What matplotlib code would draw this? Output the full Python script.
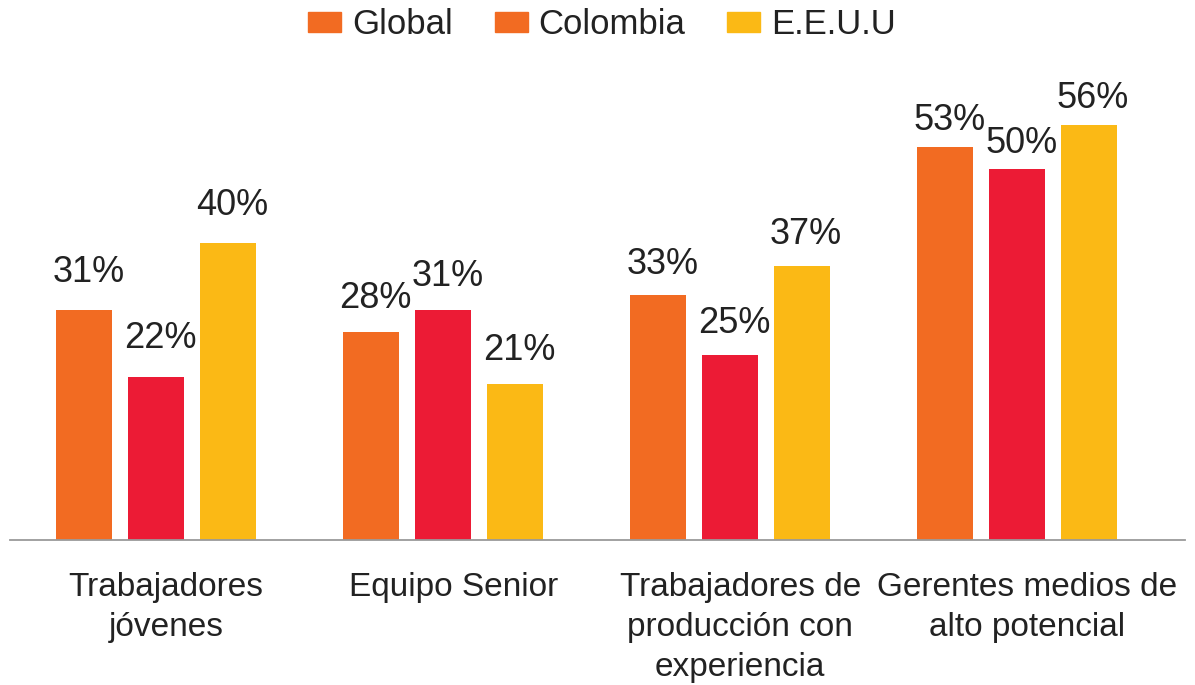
import numpy as np
import matplotlib.pyplot as plt
from matplotlib.patches import Patch

plt.rcParams['font.family'] = ['Liberation Sans', 'DejaVu Sans']

categorias = ['Trabajadores\njóvenes', 'Equipo Senior',
              'Trabajadores de\nproducción con\nexperiencia',
              'Gerentes medios de\nalto potencial']
series = ['Global', 'Colombia', 'E.E.U.U']
global_vals = [31, 28, 33, 53]
colombia_vals = [22, 31, 25, 50]
eeuu_vals = [40, 21, 37, 56]

naranja = '#F26B22'
rojo = '#EC1B35'
amarillo = '#FBB915'
texto = '#222222'

fig = plt.figure(figsize=(11.95, 6.85), dpi=100)
ax = fig.add_axes([10 / 1195, 145 / 685, 1175 / 1195, 445 / 685])

x = np.arange(len(categorias))
paso = 0.25
ancho = 0.195
# separacion (px) entre etiqueta y barra en cada grupo, como en el original
sep = [24, 20, 17, 12]
for vals, col, off in [(global_vals, naranja, -paso),
                       (colombia_vals, rojo, 0),
                       (eeuu_vals, amarillo, paso)]:
    ax.bar(x + off, vals, ancho, color=col)
    for i, v in enumerate(vals):
        ax.annotate(f'{v}%', (x[i] + off, v), xytext=(3, sep[i] * 0.72 - 2.5),
                    textcoords='offset points', ha='center', va='bottom',
                    fontsize=26, color=texto)

ax.set_xlim(-0.509, 3.585)
ax.set_ylim(0, 60)
ax.set_xticks(x + 0.035)
ax.set_xticklabels(categorias, fontsize=24, color=texto, linespacing=1.37,
                   va='top')
ax.tick_params(axis='x', length=0, pad=23)
ax.set_yticks([])
for lado in ['top', 'right', 'left']:
    ax.spines[lado].set_visible(False)
ax.spines['bottom'].set_color('#9a9a9a')
ax.spines['bottom'].set_linewidth(1.3)

# en el original la leyenda de Colombia sale naranja
handles = [Patch(color=naranja), Patch(color=naranja), Patch(color=amarillo)]
fig.legend(handles, series, loc='center', bbox_to_anchor=(602 / 1195, 1 - 25 / 685),
           ncol=3, frameon=False, fontsize=25, handlelength=0.96,
           handleheight=0.5, handletextpad=0.31, columnspacing=1.2,
           labelcolor=texto)

fig.savefig('out.png', dpi=100)
